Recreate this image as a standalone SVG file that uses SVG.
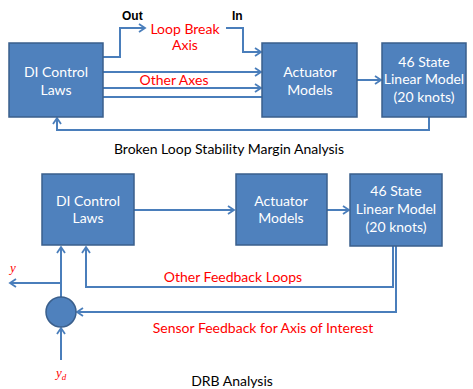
<svg xmlns="http://www.w3.org/2000/svg" width="473" height="389" viewBox="0 0 473 389">
  <style>
    .box { fill: #4f81bd; stroke: #3a5f8c; stroke-width: 1.5; }
    .btxt { font-family: Lato, "Liberation Sans", sans-serif; font-size: 14px; fill: #ffffff; text-anchor: middle; }
    .wire { fill: none; stroke: #4a7ebb; stroke-width: 2; }
    .arr { marker-end: url(#head); }
    .red { font-family: Lato, "Liberation Sans", sans-serif; font-size: 14px; fill: #ff0000; text-anchor: middle; }
    .cap { font-family: Lato, "Liberation Sans", sans-serif; font-size: 14px; fill: #000000; text-anchor: middle; }
    .bold { font-family: "Liberation Sans", Arial, sans-serif; font-size: 12px; font-weight: bold; fill: #000000; }
    .sym { font-family: "Liberation Serif", "Times New Roman", serif; font-size: 13px; font-style: italic; fill: #ff0000; }
  </style>
  <defs>
    <marker id="head" markerWidth="10" markerHeight="10" refX="8" refY="5" orient="auto" markerUnits="userSpaceOnUse">
      <path d="M2,1 L8,5 L2,9" fill="none" stroke="#4a7ebb" stroke-width="1.8"/>
    </marker>
  </defs>

  <!-- Broken loop setup -->
  <g id="connectors-top">
    <path class="wire arr" d="M103,57 H120 V28 H145"/>
    <path class="wire arr" d="M226,28 H243 V52 H261"/>
    <path class="wire arr" d="M103,72 H261"/>
    <path class="wire arr" d="M103,88 H261"/>
    <path class="wire" d="M103,97 H268"/>
    <path class="wire arr" d="M357,80 H381"/>
    <path class="wire arr" d="M429,117 V130 H57 V118"/>
  </g>
  <g id="di-top">
    <rect class="box" x="9" y="43" width="94" height="74"/>
    <text class="btxt" x="56" y="77">DI Control</text>
    <text class="btxt" x="56" y="95">Laws</text>
  </g>
  <g id="act-top">
    <rect class="box" x="262" y="43" width="95" height="74"/>
    <text class="btxt" x="310" y="77">Actuator</text>
    <text class="btxt" x="310" y="95">Models</text>
  </g>
  <g id="model-top">
    <rect class="box" x="382" y="43" width="84" height="74"/>
    <text class="btxt" x="424" y="67">46 State</text>
    <text class="btxt" x="424" y="84">Linear Model</text>
    <text class="btxt" x="424" y="102">(20 knots)</text>
  </g>
  <g id="labels-top">
    <text class="bold" x="122" y="20">Out</text>
    <text class="bold" x="232" y="20">In</text>
    <text class="red" x="185" y="34">Loop Break</text>
    <text class="red" x="185" y="50">Axis</text>
    <text class="red" x="174" y="85">Other Axes</text>
    <text class="cap" x="229" y="154">Broken Loop Stability Margin Analysis</text>
  </g>

  <!-- DRB setup -->
  <g id="connectors-bottom">
    <path class="wire arr" d="M134,210 H234"/>
    <path class="wire arr" d="M327,210 H349"/>
    <path class="wire arr" d="M393,246 V287 H86 V247"/>
    <path class="wire arr" d="M396,246 V312 H77"/>
    <path class="wire arr" d="M61,297 V247"/>
    <path class="wire arr" d="M61,283 H10"/>
    <path class="wire arr" d="M61,360 V328"/>
  </g>
  <g id="di-bottom">
    <rect class="box" x="42" y="174" width="92" height="71"/>
    <text class="btxt" x="88" y="206">DI Control</text>
    <text class="btxt" x="88" y="223">Laws</text>
  </g>
  <g id="act-bottom">
    <rect class="box" x="236" y="174" width="91" height="71"/>
    <text class="btxt" x="281" y="206">Actuator</text>
    <text class="btxt" x="281" y="223">Models</text>
  </g>
  <g id="model-bottom">
    <rect class="box" x="350" y="174" width="92" height="72"/>
    <text class="btxt" x="396" y="196">46 State</text>
    <text class="btxt" x="396" y="214">Linear Model</text>
    <text class="btxt" x="396" y="232">(20 knots)</text>
  </g>
  <g id="sum">
    <circle cx="61" cy="312" r="15" fill="#4f81bd" stroke="#3a5f8c" stroke-width="1.5"/>
  </g>
  <g id="labels-bottom">
    <text class="sym" x="10" y="272">y</text>
    <text class="sym" x="56" y="377">y<tspan font-size="9" dy="3">d</tspan></text>
    <text class="red" x="233" y="282">Other Feedback Loops</text>
    <text class="red" x="263" y="333">Sensor Feedback for Axis of Interest</text>
    <text class="cap" x="232" y="386">DRB Analysis</text>
  </g>
</svg>
